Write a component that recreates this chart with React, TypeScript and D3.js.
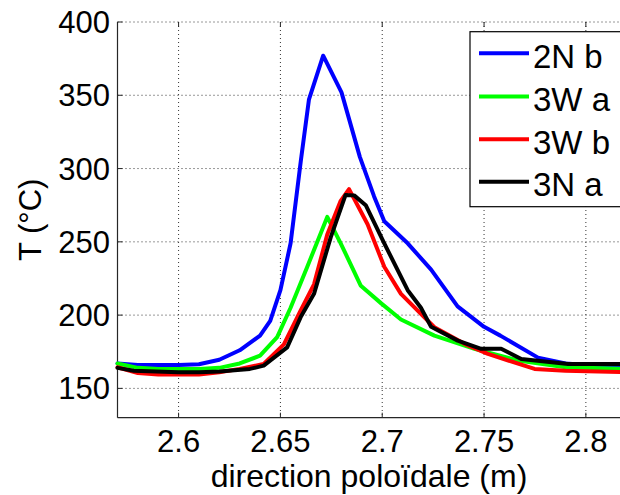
import React from "react";
import * as d3 from "d3";

const seriesNames = ["2N b", "3W a", "3W b", "3N a"];
const seriesColors = ["#0000ff", "#00ff00", "#ff0000", "#000000"];

const x2Nb = [2.57, 2.58, 2.59, 2.6, 2.61, 2.62, 2.63, 2.64, 2.645, 2.65, 2.655, 2.66, 2.664, 2.671, 2.68, 2.689, 2.696, 2.701, 2.7125, 2.724, 2.737, 2.75, 2.758, 2.7765, 2.79, 2.8, 2.82];
const t2Nb = [167, 166, 166, 166, 166.5, 169.5, 176, 186, 196, 217, 249, 305, 347, 377, 352, 308, 281, 264, 249, 231, 206, 192, 186, 171, 167, 166, 165.5];

const x3Wa = [2.57, 2.58, 2.59, 2.6, 2.61, 2.62, 2.63, 2.64, 2.6484, 2.655, 2.6632, 2.673, 2.6763, 2.6796, 2.6895, 2.6995, 2.7092, 2.7256, 2.7453, 2.7667, 2.79, 2.82];
const t3Wa = [167, 164, 163.3, 163.3, 163.3, 164, 167, 172.3, 185, 205, 233, 267, 258, 249, 220, 208, 197, 186, 177, 169, 164.4, 163.3];

const x3Wb = [2.57, 2.58, 2.59, 2.6, 2.61, 2.62, 2.63, 2.6418, 2.6517, 2.6599, 2.6665, 2.673, 2.6796, 2.6837, 2.6928, 2.701, 2.7092, 2.7256, 2.7404, 2.7519, 2.7748, 2.79, 2.82];
const t3Wb = [164.4, 160.5, 159.4, 159.4, 159.4, 161, 163.3, 166.7, 180, 203, 221, 255, 278, 286, 262, 233, 214.5, 191.7, 180.4, 173.5, 163.3, 162, 161];

const x3Na = [2.57, 2.578, 2.6, 2.61, 2.62, 2.635, 2.6418, 2.6533, 2.6599, 2.6665, 2.6747, 2.682, 2.6862, 2.6919, 2.701, 2.7125, 2.719, 2.724, 2.7371, 2.7486, 2.7584, 2.7683, 2.7913, 2.82];
const t3Na = [164, 162, 161, 161, 161.5, 163.3, 165.5, 178, 198.5, 214.5, 253, 282, 281.7, 275, 249, 217, 205, 192, 182.6, 177, 177, 170, 166.7, 166.7];

const seriesX = [x2Nb, x3Wa, x3Wb, x3Na];
const seriesT = [t2Nb, t3Wa, t3Wb, t3Na];

const xTicks = [2.6, 2.65, 2.7, 2.75, 2.8];
const yTicks = [150, 200, 250, 300, 350, 400];

const W = 620;
const H = 495;
const left = 117.5;
const right = 626.6;
const top = 22;
const bottom = 417.7;

export default function App() {
  const x = d3.scaleLinear().domain([2.57, 2.82]).range([left, right]);
  const y = d3.scaleLinear().domain([130, 400]).range([bottom, top]);
  const font = "'Liberation Sans', Arial, sans-serif";

  const lines = seriesX.map((xs, i) =>
    d3
      .line<number>()
      .x((_, j) => x(xs[j]))
      .y((d) => y(d))(seriesT[i]) || ""
  );

  const legendX = 470;
  const legendTop = 31.7;
  const legendBottom = 206.7;
  const legendRowY = [53.3, 96.5, 139.3, 181.7];

  return (
    <svg
      width={W}
      height={H}
      style={{ position: "absolute", left: 0, top: 0, background: "#fff", display: "block" }}
      fontFamily={font}
    >
      <rect x={0} y={0} width={W} height={H} fill="#fff" />
      {xTicks.map((t) => (
        <line key={"gx" + t} x1={x(t)} x2={x(t)} y1={top} y2={bottom} stroke="#333" strokeWidth={1} strokeDasharray="1 3" />
      ))}
      {yTicks.map((t) => (
        <line key={"gy" + t} x1={left} x2={right} y1={y(t)} y2={y(t)} stroke="#333" strokeWidth={1} strokeDasharray="1 3" />
      ))}
      <line x1={left} x2={left} y1={top} y2={bottom} stroke="#262626" strokeWidth={1.2} />
      <line x1={left} x2={right} y1={bottom} y2={bottom} stroke="#262626" strokeWidth={1.2} />
      {xTicks.map((t) => (
        <g key={"tx" + t}>
          <line x1={x(t)} x2={x(t)} y1={bottom} y2={bottom - 5} stroke="#262626" />
          <line x1={x(t)} x2={x(t)} y1={top} y2={top + 5} stroke="#262626" />
          <text x={x(t)} y={452} textAnchor="middle" fontSize={31} fill="#000">
            {String(t)}
          </text>
        </g>
      ))}
      {yTicks.map((t) => (
        <g key={"ty" + t}>
          <line x1={left} x2={left + 5} y1={y(t)} y2={y(t)} stroke="#262626" />
          <text x={110} y={y(t) + 11} textAnchor="end" fontSize={31} fill="#000">
            {String(t)}
          </text>
        </g>
      ))}
      {lines.map((d, i) => (
        <path key={"s" + i} d={d} fill="none" stroke={seriesColors[i]} strokeWidth={4} strokeLinejoin="round" strokeLinecap="round" />
      ))}
      <rect x={legendX} y={legendTop} width={170} height={legendBottom - legendTop} fill="#fff" stroke="#000" strokeWidth={1.2} />
      {seriesNames.map((n, i) => (
        <g key={"l" + n}>
          <line x1={479} x2={529} y1={legendRowY[i]} y2={legendRowY[i]} stroke={seriesColors[i]} strokeWidth={4} />
          <text x={533} y={legendRowY[i] + 14.5} fontSize={33} fill="#000">
            {n}
          </text>
        </g>
      ))}
      <text x={369} y={487} textAnchor="middle" fontSize={32} fill="#000">
        direction poloïdale (m)
      </text>
      <text transform={`translate(41,${(top + bottom) / 2}) rotate(-90)`} textAnchor="middle" fontSize={31} fill="#000">
        T (°C)
      </text>
    </svg>
  );
}
